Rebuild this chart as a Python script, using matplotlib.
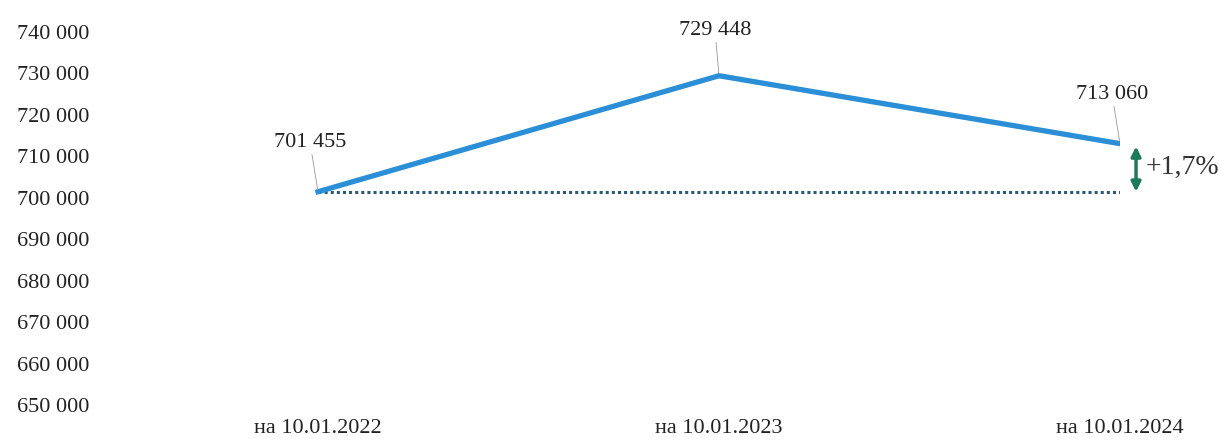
import matplotlib.pyplot as plt

dates = ['на 10.01.2022', 'на 10.01.2023', 'на 10.01.2024']
values = [701455, 729448, 713060]
value_labels = ['701 455', '729 448', '713 060']
growth_label = '+1,7%'
y_ticks = [650000, 660000, 670000, 680000, 690000, 700000, 710000, 720000, 730000, 740000]

plt.rcParams['font.family'] = ['Liberation Serif', 'DejaVu Serif']

W, H = 1227, 444
fig = plt.figure(figsize=(W / 100, H / 100), dpi=100)
# axes in pixel terms: left 100, right 1120, top 32, bottom 405
ax = fig.add_axes([100 / W, 1 - 405 / H, 1020 / W, (405 - 32) / H])

x = list(range(len(dates)))
ax.plot(x, values, color='#2a8fd6', lw=3.8, solid_joinstyle='miter', zorder=3)
# baseline: first value carried forward
ax.plot([x[0], x[-1]], [values[0], values[0]], color='#2b5a78', lw=2.2,
        linestyle=(0, (1, 1)), zorder=2)

ax.set_xlim(-0.5436, 2)
ax.set_ylim(650000, 740000)
ax.set_yticks(y_ticks)
ax.set_yticklabels([f'{v:,}'.replace(',', ' ') for v in y_ticks])
ax.set_xticks(x)
ax.set_xticklabels(dates)
ax.tick_params(axis='y', length=0, pad=8, labelsize=16, colors='#222222')
ax.tick_params(axis='x', length=0, pad=10, labelsize=16, colors='#222222')
for s in ax.spines.values():
    s.set_visible(False)

# value labels with thin leader lines
offsets = [(-8, 40), (-4, 36), (-8, 40)]
for xi, v, lab, off in zip(x, values, value_labels, offsets):
    ax.annotate(lab, xy=(xi, v), xytext=off, textcoords='offset pixels',
                ha='center', va='bottom', fontsize=16, color='#222222',
                arrowprops=dict(arrowstyle='-', color='#999999', lw=0.6,
                                shrinkA=0, shrinkB=2),
                annotation_clip=False)

# growth arrow between baseline and last value
ax.annotate('', xy=(x[-1] + 0.04, values[0]), xytext=(x[-1] + 0.04, values[-1]),
            arrowprops=dict(arrowstyle='<|-|>', color='#1c7a5c', lw=2.5,
                            mutation_scale=14, shrinkA=2, shrinkB=0),
            annotation_clip=False)
ax.text(x[-1] + 0.065, (values[0] + values[-1]) / 2, growth_label,
        fontsize=20, color='#333333', va='center', ha='left', clip_on=False)

fig.savefig('out.png', dpi=100, facecolor='white')
